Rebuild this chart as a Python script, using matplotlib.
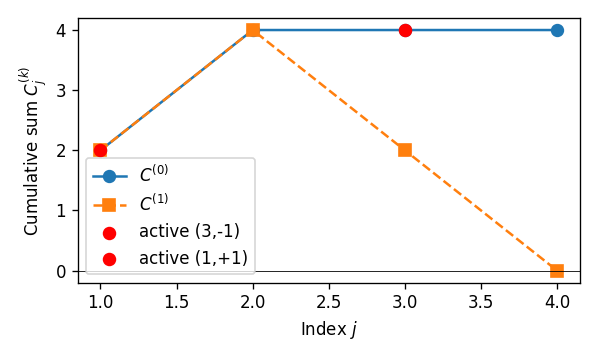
import matplotlib
matplotlib.use("Agg")
import matplotlib.pyplot as plt

j = [1, 2, 3, 4]
c0 = [2, 4, 4, 4]
c1 = [2, 4, 2, 0]
active_a = (3, 4)   # active (3,-1)
active_b = (1, 2)   # active (1,+1)

fig, ax = plt.subplots(figsize=(5.98 / 1.2, 3.59 / 1.2), dpi=120)
ax.plot(j, c0, marker="o", markersize=7, label=r"$C^{(0)}$")
ax.plot(j, c1, marker="s", markersize=7, linestyle="--", label=r"$C^{(1)}$")
ax.scatter([active_a[0]], [active_a[1]], color="red", s=50, zorder=5, label="active (3,-1)")
ax.scatter([active_b[0]], [active_b[1]], color="red", s=50, zorder=5, label="active (1,+1)")
ax.axhline(0, color="black", linewidth=0.5)
ax.set_yticks(range(0, 5))
ax.set_xlabel("Index $j$")
ax.set_ylabel("Cumulative sum $C_j^{(k)}$")
ax.legend()
fig.tight_layout()
fig.savefig("out.png")
